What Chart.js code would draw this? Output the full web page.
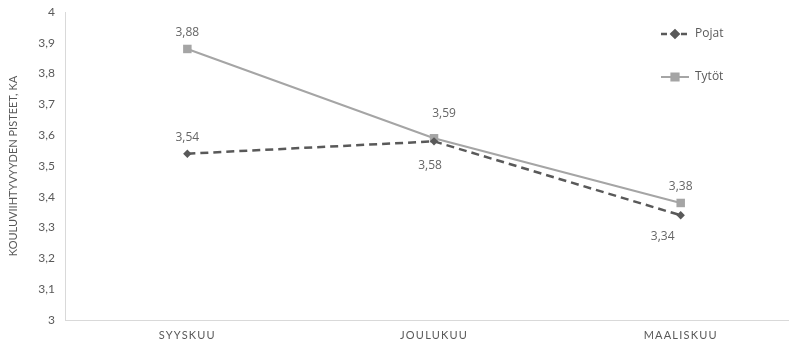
<!DOCTYPE html>
<html>
<head>
<meta charset="utf-8">
<script src="https://cdn.jsdelivr.net/npm/chart.js@4.4.1/dist/chart.umd.min.js"></script>
<style>
  html, body { margin: 0; padding: 0; background: #ffffff; }
  #wrap { width: 794px; height: 344px; position: relative; }
</style>
</head>
<body>
<div id="wrap"><canvas id="c" width="794" height="344"></canvas></div>
<script>
// Survey months and mean school-satisfaction scores
const categories = ['SYYSKUU', 'JOULUKUU', 'MAALISKUU'];
const pojat = [3.54, 3.58, 3.34];
const tytot = [3.88, 3.59, 3.38];
const yTickLabels = ['3', '3,1', '3,2', '3,3', '3,4', '3,5', '3,6', '3,7', '3,8', '3,9', '4'];
const seriesNames = ['Pojat', 'Tytöt'];

const fmt = v => v.toFixed(2).replace('.', ',');
const toPoints = arr => arr.map((v, i) => ({ x: i, y: v }));

// Value labels drawn next to each point, offset per point
const valueLabels = {
  id: 'valueLabels',
  afterDatasetsDraw(chart) {
    const ctx = chart.ctx;
    ctx.save();
    ctx.letterSpacing = '0px';
    ctx.font = '12px "Open Sans"';
    ctx.fillStyle = '#666666';
    ctx.textAlign = 'center';
    ctx.textBaseline = 'middle';
    chart.data.datasets.forEach((ds, di) => {
      const meta = chart.getDatasetMeta(di);
      meta.data.forEach((pt, i) => {
        const [dx, dy] = ds.labelOffset[i];
        ctx.fillText(fmt(ds.data[i].y), pt.x + dx, pt.y + dy);
      });
    });
    ctx.restore();
  }
};

// Legend at the right with line + marker samples
const sideLegend = {
  id: 'sideLegend',
  afterDraw(chart) {
    const ctx = chart.ctx;
    ctx.save();
    ctx.letterSpacing = '0px';
    const x0 = 661, x1 = 689, tx = 695;
    const ys = [34, 77];
    chart.data.datasets.forEach((ds, di) => {
      const y = ys[di];
      ctx.strokeStyle = ds.borderColor;
      ctx.lineWidth = ds.borderWidth;
      ctx.setLineDash(ds.borderDash ? [6, 4] : []);
      ctx.beginPath();
      ctx.moveTo(x0, y);
      ctx.lineTo(x1, y);
      ctx.stroke();
      ctx.setLineDash([]);
      Chart.helpers.drawPoint(ctx, {
        pointStyle: ds.pointStyle,
        radius: ds.pointRadius * 0.85,
        borderWidth: 1,
        rotation: 0
      }, (x0 + x1) / 2, y);
      ctx.fillStyle = ds.pointBackgroundColor;
      ctx.fill();
      ctx.fillStyle = '#595959';
      ctx.font = '12px "Open Sans"';
      ctx.textAlign = 'left';
      ctx.textBaseline = 'middle';
      ctx.fillText(ds.label, tx, y);
    });
    ctx.restore();
  }
};

// Letter-spaced category labels on the x axis (x axis layers are drawn before
// the datasets, all y axis layers after them)
const axisSpacing = {
  id: 'axisSpacing',
  beforeDraw(chart) { chart.ctx.letterSpacing = '1.2px'; },
  beforeDatasetsDraw(chart) { chart.ctx.letterSpacing = '0px'; }
};

new Chart(document.getElementById('c'), {
  type: 'line',
  data: {
    datasets: [
      {
        label: seriesNames[0],
        data: toPoints(pojat),
        borderColor: '#595959',
        backgroundColor: '#595959',
        pointBackgroundColor: '#595959',
        pointBorderColor: '#595959',
        borderWidth: 2.5,
        borderDash: [8, 5],
        pointStyle: 'rectRot',
        pointRadius: 4.2,
        pointBorderWidth: 0,
        labelOffset: [[0, -16], [-4, 24], [-18, 21]]
      },
      {
        label: seriesNames[1],
        data: toPoints(tytot),
        borderColor: '#A5A5A5',
        backgroundColor: '#A5A5A5',
        pointBackgroundColor: '#A5A5A5',
        pointBorderColor: '#A5A5A5',
        borderWidth: 2,
        pointStyle: 'rect',
        pointRadius: 6,
        pointBorderWidth: 0,
        labelOffset: [[0, -16], [10, -25], [0, -16]]
      }
    ]
  },
  options: {
    responsive: false,
    animation: false,
    events: [],
    layout: { padding: 0 },
    plugins: { legend: { display: false }, tooltip: { enabled: false } },
    scales: {
      x: {
        type: 'linear',
        min: -0.496,
        max: 2.435,
        afterBuildTicks(scale) { scale.ticks = categories.map((c, i) => ({ value: i })); },
        afterFit(scale) {
          scale.height = 24;
          scale.paddingLeft = 0;
          scale.paddingRight = 0;
        },
        grid: { display: false, drawTicks: false, z: -1 },
        border: { display: true, color: '#D9D9D9', width: 1, z: 0 },
        ticks: {
          z: 0,
          padding: 9,
          color: '#595959',
          font: { family: 'Lato', size: 11 },
          maxRotation: 0,
          autoSkip: false,
          callback: (v) => categories[v]
        }
      },
      y: {
        min: 3,
        max: 4,
        afterFit(scale) {
          scale.width = 65;
          scale.paddingTop = 12;
          scale.paddingBottom = 0;
        },
        grid: { display: false, drawTicks: false, z: 1 },
        border: { display: true, color: '#D9D9D9', width: 1, z: 1 },
        ticks: {
          z: 1,
          stepSize: 0.1,
          padding: 10,
          color: '#595959',
          font: { family: 'Lato', size: 12 },
          callback: (v, i) => yTickLabels[i]
        },
        title: {
          display: true,
          text: 'KOULUVIIHTYVYYDEN PISTEET, KA',
          color: '#595959',
          font: { family: 'Lato', size: 11 },
          padding: { top: 7, bottom: 0 }
        }
      }
    }
  },
  plugins: [axisSpacing, valueLabels, sideLegend]
});
</script>
</body>
</html>
